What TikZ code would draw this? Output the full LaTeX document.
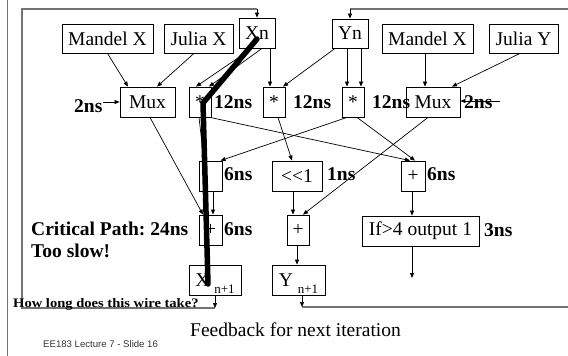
\documentclass[tikz,border=0pt]{standalone}
\usepackage{fontspec}
\usepackage{graphicx}
\setmainfont{Liberation Serif}
\newfontfamily\footsans{Liberation Sans}
\usetikzlibrary{arrows.meta}
\frenchspacing
\newcommand\bigf{\fontsize{19.5pt}{22pt}\selectfont}
\newcommand\subtxt[1]{\smash{\raisebox{-7pt}{\fontsize{13pt}{14pt}\selectfont #1}}}
\begin{document}
\begin{tikzpicture}[x=1pt,y=-1pt,
  box/.style={draw=black,line width=0.8pt,inner sep=0pt,font=\bigf,minimum height=30pt},
  lab/.style={inner sep=0pt,anchor=base west,font=\bigf\bfseries},
  arr/.style={draw=black,line width=0.7pt,-{Triangle[length=5pt,width=4pt]}},
  fb/.style={draw=black!55,line width=1.4pt},
  crit/.style={draw=black,line width=5.5pt,line cap=round}]
\useasboundingbox (0,0) rectangle (568,356);

% slide edge
\draw[draw=black!55,line width=1pt] (7,0) -- (7,356);

% inputs
\node[box,minimum width=91pt,minimum height=29pt] (mandL) at (107.5,38.5) {Mandel X};
\node[box,minimum width=69pt,minimum height=29pt] (juliaX) at (198.5,38.5) {Julia X};
\node[box,minimum width=36pt] (xn) at (257,33) {Xn};
\node[box,minimum width=36pt,minimum height=29pt] (yn) at (350,33.5) {Yn};
\node[box,minimum width=91pt,minimum height=29pt] (mandR) at (427.5,38.5) {Mandel X};
\node[box,minimum width=69pt,minimum height=29pt] (juliaY) at (523.5,38.5) {Julia Y};

% muxes and multipliers
\node[box,minimum width=55pt] (muxL) at (147.5,102) {Mux};
\node[box,minimum width=22pt] (mul1) at (200,102) {*};
\node[box,minimum width=22pt] (mul2) at (274,102) {*};
\node[box,minimum width=22pt] (mul3) at (353,102) {*};
\node[box,minimum width=54pt] (muxR) at (433,102) {Mux};

% second row
\node[box,minimum width=23pt] (sub) at (210.5,176) {};
\node[box,minimum width=50pt] (shl) at (297,176) {<\kern0pt<1};
\node[box,minimum width=24pt] (addR) at (413,176) {+};

% third row
\node[box,minimum width=23pt] (add3) at (210.5,230) {+};
\node[box,minimum width=22pt] (addM) at (298,230) {+};
\node[box,minimum width=117pt] (ifb) at (420.5,231) {If>4 output 1};

% outputs
\node[box,minimum width=52pt] (xn1) at (215,280) {X\hspace{5pt}\subtxt{n+1}};
\node[box,minimum width=53pt] (yn1) at (298.5,280) {Y\hspace{5pt}\subtxt{n+1}};

% delay labels
\node[lab] (d2L) at (74,112) {2ns};
\node[lab] (d12a) at (214,108) {12ns};
\node[lab] (d12b) at (293,108) {12ns};
\node[lab] (d12c) at (372,108) {12ns};
\node[lab] (d2R) at (464,108) {2ns};
\node[lab] (d6a) at (224,180) {6ns};
\node[lab] (d1) at (327,180) {1ns};
\node[lab] (d6b) at (427,180) {6ns};
\node[lab] (d6c) at (224,235) {6ns};
\node[lab] (d3) at (484,236) {3ns};
\node[lab] (crt) at (31,235) {Critical Path: 24ns};
\node[lab] (slow) at (31,257) {Too slow!};

% connectors
\draw[arr] (mandL.south) -- ([xshift=-19.5pt]muxL.north);
\draw[arr] ([xshift=-4.5pt]juliaX.south) -- ([xshift=9.5pt]muxL.north);
\draw[arr] ([xshift=-5pt]xn.south) -- ([xshift=-4pt]mul1.north);
\draw[arr] ([xshift=5pt]xn.south) -- ([xshift=9pt]mul1.north);
\draw[arr] ([xshift=13pt]xn.south) -- ([xshift=-4pt]mul2.north);
\draw[arr] ([xshift=-15pt]yn.south) -- ([xshift=9pt]mul2.north);
\draw[arr] ([xshift=-3pt]yn.south) -- ([xshift=-6pt]mul3.north);
\draw[arr] ([xshift=11pt]yn.south) -- ([xshift=8pt]mul3.north);
\draw[arr] ([xshift=-2.5pt]mandR.south) -- ([xshift=-8pt]muxR.north);
\draw[arr] ([xshift=-3.5pt]juliaY.south) -- ([xshift=19pt]muxR.north);

\draw[arr] (d2L.east |- muxL.west) -- (muxL.west);
\coordinate (in2R) at (500,101);
\draw[arr] (in2R) -- (muxR.east |- in2R);

\draw[arr] ([xshift=-1pt]mul1.south) -- ([xshift=-6.5pt]sub.north);
\draw[arr] ([xshift=10pt]mul1.south) -- ([xshift=-3pt]addR.north);
\draw[arr] ([xshift=-6pt]mul3.south) -- ([xshift=10pt]sub.north);
\draw[arr] ([xshift=4pt]mul3.south) -- ([xshift=2pt]addR.north);
\draw[arr] ([xshift=4pt]mul2.south) -- ([xshift=-5pt]shl.north);

\draw[arr] ([xshift=2.5pt]muxL.south) -- ([xshift=-7.5pt]add3.north);
\draw[arr] ([xshift=2.5pt]sub.south) -- ([xshift=2.5pt]add3.north);
\draw[arr] ([xshift=-5pt]muxR.south) -- ([xshift=5pt]addM.north);
\draw[arr] ([xshift=-4pt]shl.south) -- ([xshift=-5pt]addM.north);
\draw[arr] ([xshift=-1pt]addR.south) -- ([xshift=-8.5pt]ifb.north);
\coordinate (flag) at (412,278);
\draw[arr] ([xshift=-8.5pt]ifb.south) -- (flag);

\draw[arr] ([xshift=-3.5pt]add3.south) -- ([xshift=-8pt]xn1.north);
\draw[arr] ([xshift=-1pt]addM.south) -- ([xshift=-1.5pt]yn1.north);

% feedback for next iteration
\coordinate (fbL) at (215,308);
\coordinate (fbR) at (302,307);
\coordinate (topL) at (257,9);
\coordinate (topR) at (350,9);
\draw[fb] (fbL) -- (22,308) -- (22,9) -- (topL);
\draw[fb] (fbR) -- (568,307);
\draw[fb] (568,9) -- (topR);
\draw[arr] (xn1.south) -- (fbL);
\draw[arr] ([xshift=3.5pt]yn1.south) -- (fbR);
\draw[arr] (topL) -- (xn.north);
\draw[arr] (topR) -- (yn.north);

% critical path
\coordinate (cpA) at (257,39);
\coordinate (cpB) at (203,103);
\coordinate (cpC) at (208,284);
\draw[crit] (cpA) -- (cpB) -- (cpC);

% captions
\node[inner sep=0pt,anchor=base west,font=\fontsize{13pt}{15pt}\selectfont\bfseries] (wireq) at (13,307)
  {\scalebox{1.12}[1]{How long does this wire take?}};
\node[inner sep=0pt,anchor=base west,font=\bigf] (fbtxt) at (190,336) {Feedback for next iteration};
\node[inner sep=0pt,anchor=base west,font=\footsans\fontsize{9.6pt}{11pt}\selectfont,text=black!80] (foot) at (43,347)
  {EE183 Lecture 7 - Slide 16};
\end{tikzpicture}
\end{document}
